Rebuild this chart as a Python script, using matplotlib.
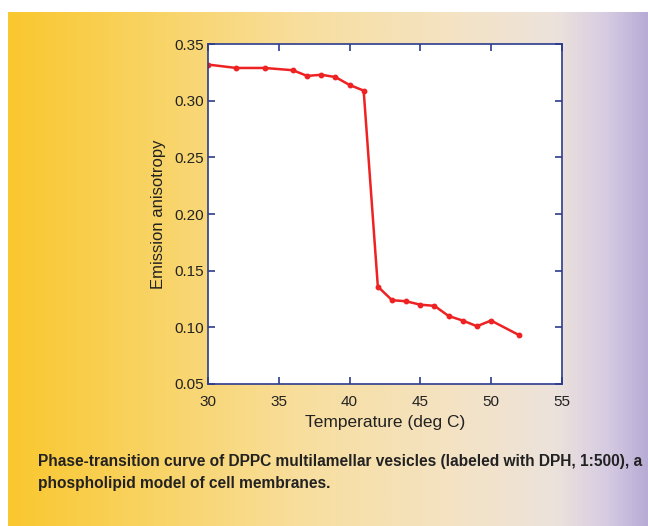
import matplotlib
matplotlib.use("Agg")
import matplotlib.pyplot as plt
import numpy as np
from matplotlib.colors import LinearSegmentedColormap

# data
temp = [30, 32, 34, 36, 37, 38, 39, 40, 41, 42, 43, 44, 45, 46, 47, 48, 49, 50, 52]
aniso = [0.332, 0.329, 0.329, 0.327, 0.322, 0.323, 0.321, 0.314, 0.309,
         0.136, 0.124, 0.123, 0.120, 0.119, 0.110, 0.106, 0.101, 0.106, 0.093]
xticks = [30, 35, 40, 45, 50, 55]
yticks = [0.05, 0.10, 0.15, 0.20, 0.25, 0.30, 0.35]
caption = ("Phase-transition curve of DPPC multilamellar vesicles (labeled with DPH, 1:500), a\n"
           "phospholipid model of cell membranes.")

plt.rcParams['font.family'] = ['Liberation Sans', 'DejaVu Sans']
navy = '#2c3c8c'

fig = plt.figure(figsize=(6.48, 5.26), dpi=100)

# page background: yellow -> cream -> lavender
bg = fig.add_axes([0, 0, 1, 1])
bg.set_axis_off()
cmap = LinearSegmentedColormap.from_list('page', [
    (0.0, '#fac72e'), (0.2, '#f9d25e'), (0.45, '#f8de9c'),
    (0.7, '#f4e3c4'), (0.86, '#ece2dc'), (0.94, '#d6cbe2'), (1.0, '#b8acd6')])
grad = np.tile(np.linspace(0, 1, 400), (60, 1))
bg.imshow(grad, cmap=cmap, aspect='auto', extent=[8, 648, 526, 12])
bg.set_xlim(0, 648)
bg.set_ylim(526, 0)

ax = fig.add_axes([0.321, 0.270, 0.546, 0.646])
ax.plot(temp, aniso, color='#ee2222', lw=1.8, marker='o', ms=3.2)
ax.set_xlim(30, 55)
ax.set_ylim(0.05, 0.35)
ax.set_xticks(xticks)
ax.set_yticks(yticks)
ax.set_xticklabels([str(t) for t in xticks])
ax.set_yticklabels(['%.2f' % v for v in yticks])
ax.tick_params(direction='in', length=5, width=1.2, color=navy, labelsize=11,
               top=True, right=True, pad=3, labelcolor='#222222')
ax.tick_params(axis='x', pad=8)
for s in ax.spines.values():
    s.set_color(navy)
    s.set_linewidth(1.2)
ax.set_xlabel('Temperature (deg C)', fontsize=12.5, labelpad=4, color='#222222')
ax.set_ylabel('Emission anisotropy', fontsize=12, labelpad=6, color='#222222')

fig.text(38 / 648, 1 - 454 / 526, caption, fontsize=11.2, fontweight='bold',
         color='#222222', va='top', ha='left', linespacing=1.6)

fig.savefig('out.png', dpi=100)
